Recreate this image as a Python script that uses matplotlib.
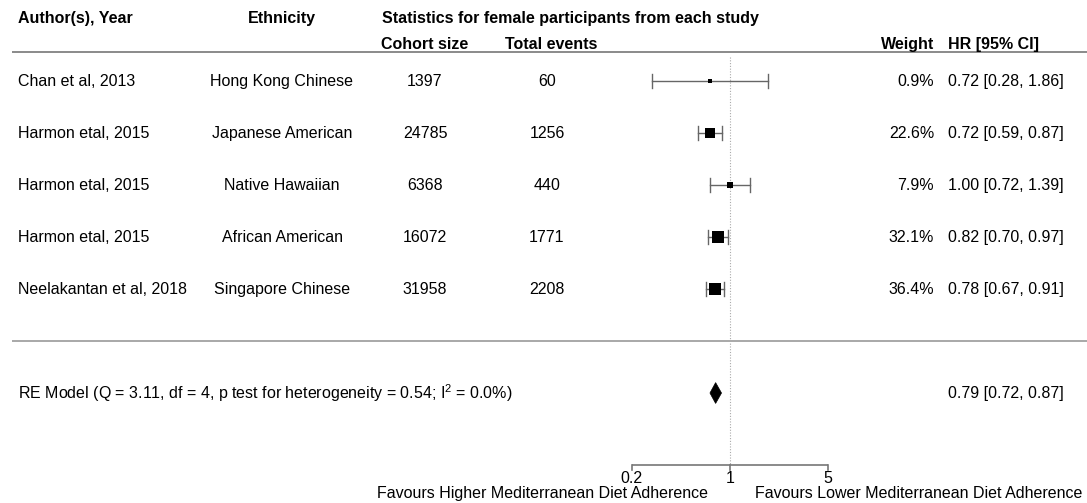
import numpy as np
import matplotlib
matplotlib.use("Agg")
import matplotlib.pyplot as plt
from matplotlib.transforms import blended_transform_factory
from matplotlib.patches import Polygon

plt.rcParams['font.family'] = ['Liberation Sans', 'DejaVu Sans']
plt.rcParams['mathtext.fontset'] = 'custom'
plt.rcParams['mathtext.rm'] = 'Liberation Sans'
plt.rcParams['mathtext.it'] = 'Liberation Sans'
plt.rcParams['mathtext.default'] = 'regular'

# Study-level data (female participants)
authors = ["Chan et al, 2013", "Harmon etal, 2015", "Harmon etal, 2015",
           "Harmon etal, 2015", "Neelakantan et al, 2018"]
ethnicity = ["Hong Kong Chinese", "Japanese American", "Native Hawaiian",
             "African American", "Singapore Chinese"]
cohort_size = [1397, 24785, 6368, 16072, 31958]
total_events = [60, 1256, 440, 1771, 2208]
weight = [0.9, 22.6, 7.9, 32.1, 36.4]
hr = [0.72, 0.72, 1.00, 0.82, 0.78]
ci_low = [0.28, 0.59, 0.72, 0.70, 0.67]
ci_high = [1.86, 0.87, 1.39, 0.97, 0.91]

# Random-effects summary
re_est, re_low, re_high = 0.79, 0.72, 0.87
re_label = r"RE Model (Q = 3.11, df = 4, p test for heterogeneity = 0.54; I$^{2}$ = 0.0%)"

axis_ticks = [0.2, 1, 5]
axis_labels = ["0.2", "1", "5"]

W, H = 1087, 503
fig = plt.figure(figsize=(W / 100, H / 100), dpi=100)
ax = fig.add_axes([0, 0, 1, 1])
ax.set_xscale('log')
px_per_ln = 61.0
x_ref = 730.0
ax.set_xlim(np.exp(-x_ref / px_per_ln), np.exp((W - x_ref) / px_per_ln))
ax.set_ylim(-3.115, 6.558)
ax.axis('off')

tr = blended_transform_factory(fig.transFigure, ax.transData)
fs = 11.5
k = len(authors)
rows = np.arange(k, 0, -1)

def fx(px):
    return px / W

# Column headers
ax.text(fx(18), 6.21, "Author(s), Year", transform=tr, ha='left', va='center',
        fontsize=fs, fontweight='bold')
ax.text(fx(282), 6.21, "Ethnicity", transform=tr, ha='center', va='center',
        fontsize=fs, fontweight='bold')
ax.text(fx(382), 6.21, "Statistics for female participants from each study",
        transform=tr, ha='left', va='center', fontsize=fs, fontweight='bold')
ax.text(fx(425), 5.71, "Cohort size", transform=tr, ha='center', va='center',
        fontsize=fs, fontweight='bold')
ax.text(fx(551), 5.71, "Total events", transform=tr, ha='center', va='center',
        fontsize=fs, fontweight='bold')
ax.text(fx(934), 5.71, "Weight", transform=tr, ha='right', va='center',
        fontsize=fs, fontweight='bold')
ax.text(fx(948), 5.71, "HR [95% CI]", transform=tr, ha='left', va='center',
        fontsize=fs, fontweight='bold')

# Horizontal rules
ax.plot([fx(12), 1], [5.558, 5.558], transform=tr, color='#777777', lw=1.2,
        solid_capstyle='butt')
ax.plot([fx(12), 1], [0, 0], transform=tr, color='#999999', lw=1.2,
        solid_capstyle='butt')

# Reference line at HR = 1
ax.plot([1, 1], [5.46, -2.385], color='#aaaaaa', lw=0.8, ls=(0, (1, 1.5)))

# Study rows
cap = 0.135
for r, a, e, n, ev, w, m, lo, hi in zip(rows, authors, ethnicity, cohort_size,
                                          total_events, weight, hr, ci_low, ci_high):
    ax.text(fx(18), r, a, transform=tr, ha='left', va='center', fontsize=fs)
    ax.text(fx(282), r, e, transform=tr, ha='center', va='center', fontsize=fs)
    ax.text(fx(425), r, f"{n}", transform=tr, ha='center', va='center', fontsize=fs)
    ax.text(fx(547), r, f"{ev}", transform=tr, ha='center', va='center', fontsize=fs)
    ax.text(fx(934), r, f"{w:.1f}%", transform=tr, ha='right', va='center', fontsize=fs)
    ax.text(fx(948), r, f"{m:.2f} [{lo:.2f}, {hi:.2f}]", transform=tr,
            ha='left', va='center', fontsize=fs)
    ax.plot([lo, hi], [r, r], color='#666666', lw=1.0)
    ax.plot([lo, lo], [r - cap, r + cap], color='#666666', lw=1.0)
    ax.plot([hi, hi], [r - cap, r + cap], color='#666666', lw=1.0)
    side_px = 1.9 + 1.67 * np.sqrt(w)
    ax.plot([m], [r], marker='s', color='black', markersize=side_px * 0.72,
            markeredgewidth=0, linestyle='none')

# Summary row
ax.text(fx(18), -1, re_label, transform=tr, ha='left', va='center', fontsize=fs)
ax.text(fx(948), -1, f"{re_est:.2f} [{re_low:.2f}, {re_high:.2f}]", transform=tr,
        ha='left', va='center', fontsize=fs)
dh = 0.2
ax.add_patch(Polygon([[re_low, -1], [re_est, -1 + dh], [re_high, -1], [re_est, -1 - dh]],
                     closed=True, facecolor='black', edgecolor='black', lw=0.5))

# X axis
ax.plot([axis_ticks[0], axis_ticks[-1]], [-2.385, -2.385], color='#777777', lw=1.2,
        solid_capstyle='butt')
for t, lab in zip(axis_ticks, axis_labels):
    ax.plot([t, t], [-2.385, -2.48], color='#777777', lw=1.2)
    ax.text(t, -2.65, lab, ha='center', va='center', fontsize=fs)

ax.text(fx(708), -2.93, "Favours Higher Mediterranean Diet Adherence", transform=tr,
        ha='right', va='center', fontsize=fs)
ax.text(fx(755), -2.93, "Favours Lower Mediterranean Diet Adherence", transform=tr,
        ha='left', va='center', fontsize=fs)

fig.savefig("out.png", dpi=100, facecolor='white')
